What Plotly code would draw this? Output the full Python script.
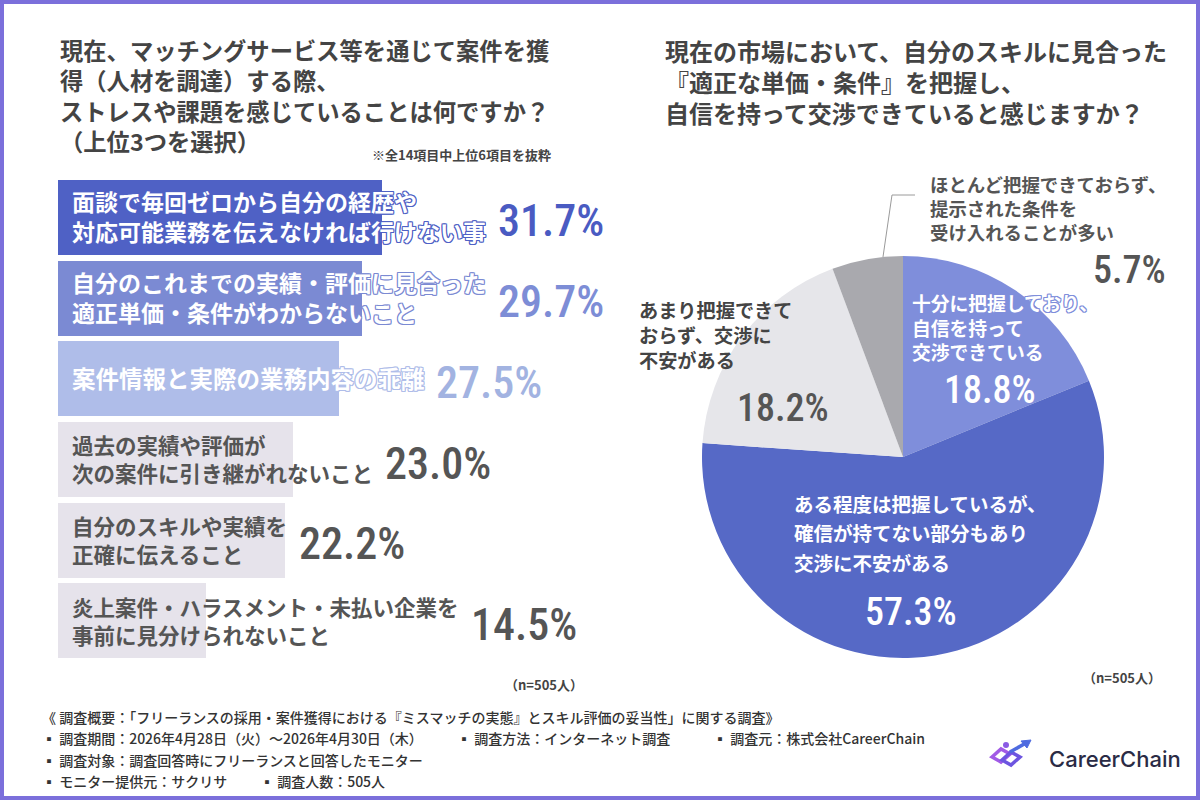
import plotly.graph_objects as go

W, H = 1200, 800

# ---------------- data ----------------
bar_labels = [
    "面談で毎回ゼロから自分の経歴や<br>対応可能業務を伝えなければ行けない事",
    "自分のこれまでの実績・評価に見合った<br>適正単価・条件がわからないこと",
    "案件情報と実際の業務内容の乖離",
    "過去の実績や評価が<br>次の案件に引き継がれないこと",
    "自分のスキルや実績を<br>正確に伝えること",
    "炎上案件・ハラスメント・未払い企業を<br>事前に見分けられないこと",
]
bar_values = [31.7, 29.7, 27.5, 23.0, 22.2, 14.5]

pie_labels = [
    "十分に把握しており、<br>自信を持って<br>交渉できている",
    "ある程度は把握しているが、<br>確信が持てない部分もあり<br>交渉に不安がある",
    "あまり把握できて<br>おらず、交渉に<br>不安がある",
    "ほとんど把握できておらず、<br>提示された条件を<br>受け入れることが多い",
]
pie_values = [18.8, 57.3, 18.2, 5.7]

left_title = [
    "現在、マッチングサービス等を通じて案件を獲",
    "得（人材を調達）する際、",
    "ストレスや課題を感じていることは何ですか？",
    "（上位3つを選択）",
]
right_title = [
    "現在の市場において、自分のスキルに見合った",
    "『適正な単価・条件』を把握し、",
    "自信を持って交渉できていると感じますか？",
]
note_text = "※全14項目中上位6項目を抜粋"
n_text = "（n=505人）"
footer_lines = [
    ["《 調査概要：「フリーランスの採用・案件獲得における『ミスマッチの実態』とスキル評価の妥当性」に関する調査》"],
    ["▪ 調査期間：2026年4月28日（火）〜2026年4月30日（木）", "▪ 調査方法：インターネット調査", "▪ 調査元：株式会社CareerChain"],
    ["▪ 調査対象：調査回答時にフリーランスと回答したモニター"],
    ["▪ モニター提供元：サクリサ", "▪ 調査人数：505人"],
]
brand = "CareerChain"

# ---------------- styles ----------------
bar_colors = ["#4f61c5", "#7b8ad3", "#afbde9", "#e6e3eb", "#e6e3eb", "#e6e3eb"]
pct_colors = ["#4a5bc2", "#7d8dd6", "#a2b3e1", "#555555", "#555555", "#555555"]
label_colors = ["#ffffff", "#ffffff", "#ffffff", "#555555", "#555555", "#555555"]
label_sizes = [23, 23, 23.5, 21.5, 21.5, 21.5]
pie_colors = ["#7f8edb", "#5669c6", "#e6e6ea", "#a9a9ae"]

JP = "Noto Sans CJK JP"
NUM = "Noto Sans ExtraCondensed, Noto Sans Condensed, Roboto Condensed, Liberation Sans Narrow, Roboto"
TXT = "#444444"

def outline(c):
    return ", ".join(f"{dx}px {dy}px 0 {c}" for dx, dy in
                     [(-1, -1), (1, -1), (-1, 1), (1, 1), (0, 1), (0, -1), (1, 0), (-1, 0)])

def px(x):
    return x / W

def py(y):
    return 1 - y / H

# bar axis geometry (pixels)
X0_PX = 57.6
PX_PER_UNIT = 10.23
BAR_TOP_PX, BAR_BOT_PX = 177.15, 661.35

fig = go.Figure()

fig.add_trace(go.Bar(
    x=bar_values, y=list(range(len(bar_values))), orientation="h",
    marker=dict(color=bar_colors, line=dict(width=0)), width=0.93,
    hoverinfo="skip", showlegend=False,
))

fig.add_trace(go.Pie(
    values=pie_values, labels=pie_labels, sort=False, direction="clockwise",
    rotation=0, textinfo="none", hoverinfo="skip", showlegend=False,
    marker=dict(colors=pie_colors, line=dict(width=0)),
    domain=dict(x=[px(903 - 201), px(903 + 201)], y=[py(457 + 201), py(457 - 201)]),
))

ann = []

# bar labels and percentages
for i, (lab, v) in enumerate(zip(bar_labels, bar_values)):
    fs = label_sizes[i]
    ann.append(dict(
        x=0, y=i, xref="x", yref="y", xanchor="left", yanchor="middle", xshift=12, yshift=1,
        text=lab, align="left", showarrow=False,
        font=dict(family=JP, size=fs, color=label_colors[i], weight=700,
                  shadow=outline(bar_colors[i]) if i < 3 else "none"),
    ))
    nchar = max(len(s) for s in lab.split("<br>"))
    ann.append(dict(
        x=0, y=i, xref="x", yref="y", xanchor="left", yanchor="middle",
        xshift=12 + nchar * fs + 12, yshift=-4,
        text=f"{v:.1f}%", showarrow=False,
        font=dict(family=NUM, size=44, color=pct_colors[i], weight=500),
    ))

def add_lines(lines, x, y0, dy, size, color, anchor="left", weight=700, shadow="none", family=JP):
    for k, s in enumerate(lines):
        ann.append(dict(
            x=px(x), y=py(y0 + k * dy), xref="paper", yref="paper",
            xanchor=anchor, yanchor="middle", text=s, showarrow=False,
            font=dict(family=family, size=size, color=color, weight=weight, shadow=shadow),
        ))

# titles
add_lines(left_title, 58, 50, 30.3, 23.3, TXT)
add_lines(right_title, 663, 50, 31, 24, TXT)
add_lines([note_text], 553, 155, 0, 13, TXT, anchor="right")
add_lines([n_text], 585, 684, 0, 13, TXT, anchor="right")
add_lines([n_text], 1163, 677, 0, 13, TXT, anchor="right")

# pie labels
pl = [s.split("<br>") for s in pie_labels]
add_lines(pl[0], 910, 303, 24.5, 18.8, "#ffffff", shadow=outline(pie_colors[0]))
add_lines(pl[1], 792, 503, 29.5, 19.5, "#ffffff")
add_lines(pl[2], 637, 310, 25, 19.2, TXT)
add_lines(pl[3], 928, 184, 24, 18.4, "#555555")
add_lines([f"{pie_values[0]:.1f}%"], 942, 390, 0, 38, "#ffffff", family=NUM, weight=500)
add_lines([f"{pie_values[1]:.1f}%"], 911, 612, 0, 38, "#ffffff", anchor="center", family=NUM, weight=500)
add_lines([f"{pie_values[2]:.1f}%"], 783, 408, 0, 38, "#555555", anchor="center", family=NUM, weight=500)
add_lines([f"{pie_values[3]:.1f}%"], 1168, 270, 0, 38, "#555555", anchor="right", family=NUM, weight=500)

# footer
foot_y = [717, 738, 760, 781]
foot_x = [[40], [40, 455, 711], [40], [40, 258]]
for ys, xs, items in zip(foot_y, foot_x, footer_lines):
    for xx, s in zip(xs, items):
        add_lines([s], xx, ys, 0, 14, "#333333", weight=500)

# brand
ann.append(dict(x=px(1047), y=py(759), xref="paper", yref="paper", xanchor="left", yanchor="middle",
                text=brand, showarrow=False,
                font=dict(family="Inter, Roboto", size=22, color="#2a2b45", weight=500)))

def ppath(points, close=False):
    s = "M " + " L ".join(f"{px(a):.5f},{py(b):.5f}" for a, b in points)
    return s + (" Z" if close else "")

shapes = [
    # frame
    dict(type="rect", xref="paper", yref="paper", x0=0, y0=0, x1=1, y1=1,
         line=dict(color="#7b6fdb", width=8), fillcolor="rgba(0,0,0,0)", layer="above"),
    # leader line
    dict(type="path", xref="paper", yref="paper", path=ppath([(915, 195), (892, 195), (883, 257)]),
         line=dict(color="#9a9a9a", width=1)),
    # logo icon
    dict(type="path", xref="paper", yref="paper",
         path=ppath([(992, 757), (1001, 749), (1010, 754), (1001, 762)], close=True),
         line=dict(color="#a25ae6", width=3.5)),
    dict(type="path", xref="paper", yref="paper",
         path=ppath([(1002, 760), (1011, 752), (1020, 757), (1011, 765)], close=True),
         line=dict(color="#6d55e0", width=3.5)),
    dict(type="path", xref="paper", yref="paper",
         path=ppath([(1010, 752), (1026, 743)]),
         line=dict(color="#4f6be0", width=3.5)),
    dict(type="path", xref="paper", yref="paper",
         path=ppath([(1031, 740), (1021, 741), (1027, 748)], close=True),
         fillcolor="#4f6be0", line=dict(color="#4f6be0", width=1)),
    dict(type="circle", xref="paper", yref="paper",
         x0=px(1003), x1=px(1009), y0=py(748), y1=py(742),
         fillcolor="#8a5ae4", line=dict(width=0)),
]

fig.update_layout(
    width=W, height=H, margin=dict(l=0, r=0, t=0, b=0),
    paper_bgcolor="#ffffff", plot_bgcolor="rgba(0,0,0,0)",
    xaxis=dict(visible=False, domain=[px(X0_PX), 0.5],
               range=[0, (0.5 * W - X0_PX) / PX_PER_UNIT], fixedrange=True),
    yaxis=dict(visible=False, domain=[py(BAR_BOT_PX), py(BAR_TOP_PX)],
               range=[len(bar_values) - 0.5, -0.5], fixedrange=True),
    annotations=ann, shapes=shapes, showlegend=False, hovermode=False,
    bargap=0,
)

fig.write_html("out.html")
